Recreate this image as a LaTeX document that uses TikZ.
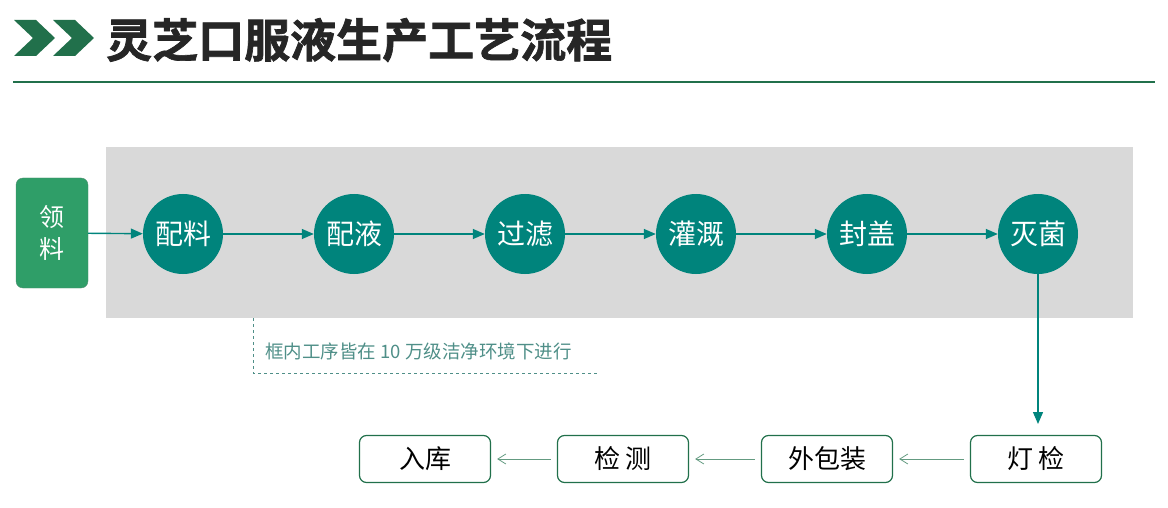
\documentclass[tikz,border=0pt]{standalone}
\usepackage{fontspec}
\setmainfont{Noto Sans CJK SC}
\newfontfamily\cjkb[FakeBold=1.5]{Noto Sans CJK SC Bold}
\usetikzlibrary{arrows.meta}
\definecolor{dg}{HTML}{21704B}
\definecolor{teal1}{HTML}{00847C}
\definecolor{lg}{HTML}{2F9E68}
\definecolor{ann}{HTML}{4F8F88}
\tikzset{
 circ/.style={circle,fill=teal1,minimum size=80pt,inner sep=0pt,text=white,font=\fontsize{28pt}{28pt}\selectfont},
 obox/.style={draw=dg,line width=1.2pt,rounded corners=7pt,minimum width=131pt,minimum height=47pt,font=\fontsize{26pt}{26pt}\selectfont},
 tarr/.style={teal1,line width=1.4pt,-{Triangle[length=12pt,width=10pt]}},
 garr/.style={dg!70,line width=0.8pt,-{Straight Barb[length=8pt,width=10pt]}}
}
\begin{document}
\begin{tikzpicture}[x=1pt,y=-1pt]
\useasboundingbox (0,0) rectangle (1168,508);
\fill[dg] (14,20)--(36,20)--(55,38)--(36,56)--(14,56)--(33,38)--cycle;
\fill[dg] (53,20)--(75,20)--(94,38)--(75,56)--(53,56)--(72,38)--cycle;
\node[anchor=west,inner sep=0pt,font=\cjkb\fontsize{46pt}{46pt}\selectfont,text=black!85] (title) at (106,40) {灵芝口服液生产工艺流程};
\draw[dg,line width=2pt] (13,82) -- (1155,82);
\fill[black!15] (106,147) rectangle (1133,318);
\node[fill=lg,draw=dg!80,rounded corners=7pt,minimum width=72pt,minimum height=110pt,text=white,align=center,font=\fontsize{25pt}{32pt}\selectfont] (lq) at (52,233) {领\\料};
\node[circ] (c1) at (183,234) {配料};
\node[circ] (c2) at (354,234) {配液};
\node[circ] (c3) at (525,234) {过滤};
\node[circ] (c4) at (696,234) {灌溉};
\node[circ] (c5) at (867,234) {封盖};
\node[circ] (c6) at (1038,234) {灭菌};
\draw[tarr] (lq) -- (c1);
\draw[tarr] (c1) -- (c2);
\draw[tarr] (c2) -- (c3);
\draw[tarr] (c3) -- (c4);
\draw[tarr] (c4) -- (c5);
\draw[tarr] (c5) -- (c6);
\node[obox] (b4) at (1036,459) {灯 检};
\node[obox] (b3) at (827,459) {外包装};
\node[obox] (b2) at (623,459) {检 测};
\node[obox] (b1) at (425,459) {入库};
\coordinate (dn) at (1038,424);
\draw[tarr] (c6) -- (dn);
\draw[garr] ([xshift=-6pt]b4.west) -- ([xshift=6pt]b3.east);
\draw[garr] ([xshift=-6pt]b3.west) -- ([xshift=6pt]b2.east);
\draw[garr] ([xshift=-6pt]b2.west) -- ([xshift=6pt]b1.east);
\draw[ann,dashed,line width=0.8pt] (253,318) -- (253,373) -- (598,373);
\node[anchor=west,text=ann,font=\fontsize{18.5pt}{18.5pt}\selectfont,inner sep=0pt] (note) at (265,351) {框内工序皆在 10 万级洁净环境下进行};
\end{tikzpicture}
\end{document}
